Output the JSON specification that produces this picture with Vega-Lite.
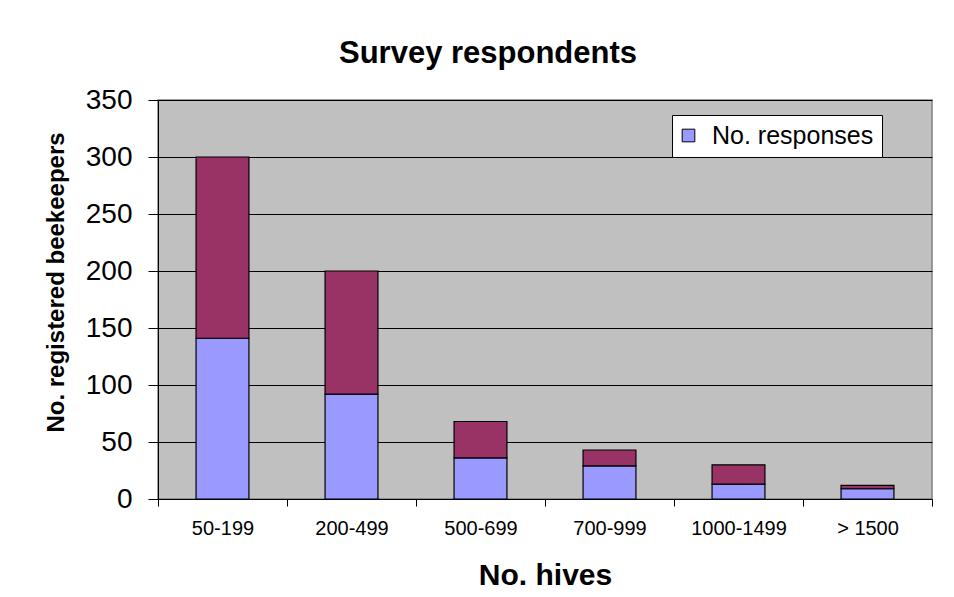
{
  "$schema": "https://vega.github.io/schema/vega-lite/v6.json",
  "autosize": "none",
  "width": 774,
  "height": 399,
  "padding": {"left": 158, "top": 100, "right": 22, "bottom": 98},
  "background": "#ffffff",
  "title": {
    "text": "Survey respondents",
    "font": "Liberation Sans",
    "fontSize": 31,
    "fontWeight": "bold",
    "color": "#000000",
    "anchor": "middle",
    "frame": "group",
    "dx": -57,
    "offset": 16
  },
  "data": {
    "values": [
      {"hives": "50-199", "series": "No. responses", "rank": 1, "count": 141},
      {"hives": "50-199", "series": "Non-respondents", "rank": 2, "count": 159},
      {"hives": "200-499", "series": "No. responses", "rank": 1, "count": 92},
      {"hives": "200-499", "series": "Non-respondents", "rank": 2, "count": 108},
      {"hives": "500-699", "series": "No. responses", "rank": 1, "count": 36},
      {"hives": "500-699", "series": "Non-respondents", "rank": 2, "count": 32},
      {"hives": "700-999", "series": "No. responses", "rank": 1, "count": 29},
      {"hives": "700-999", "series": "Non-respondents", "rank": 2, "count": 14},
      {"hives": "1000-1499", "series": "No. responses", "rank": 1, "count": 13},
      {"hives": "1000-1499", "series": "Non-respondents", "rank": 2, "count": 17},
      {"hives": "> 1500", "series": "No. responses", "rank": 1, "count": 9},
      {"hives": "> 1500", "series": "Non-respondents", "rank": 2, "count": 3}
    ]
  },
  "mark": {"type": "bar", "width": {"band": 0.41}, "stroke": "#000000", "strokeWidth": 1.2},
  "encoding": {
    "x": {
      "field": "hives",
      "type": "nominal",
      "sort": ["50-199", "200-499", "500-699", "700-999", "1000-1499", "> 1500"],
      "scale": {"paddingInner": 0, "paddingOuter": 0},
      "axis": {
        "title": "No. hives",
        "titleFont": "Liberation Sans",
        "titleFontSize": 30,
        "titleFontWeight": "bold",
        "titleColor": "#000000",
        "titlePadding": 22,
        "labelFont": "Liberation Sans",
        "labelFontSize": 20,
        "labelColor": "#000000",
        "labelAngle": 0,
        "labelPadding": 12,
        "tickBand": "extent",
        "tickSize": 7,
        "tickColor": "#000000",
        "domainColor": "#000000",
        "grid": false
      }
    },
    "y": {
      "field": "count",
      "type": "quantitative",
      "stack": "zero",
      "scale": {"domain": [0, 350], "nice": false},
      "axis": {
        "title": "No. registered beekeepers",
        "titleFont": "Liberation Sans",
        "titleFontSize": 24,
        "titleFontWeight": "bold",
        "titleColor": "#000000",
        "titleAngle": -90,
        "titleX": -95,
        "titleY": 182,
        "titleAlign": "center",
        "titleBaseline": "alphabetic",
        "values": [0, 50, 100, 150, 200, 250, 300, 350],
        "labelFont": "Liberation Sans",
        "labelFontSize": 28,
        "labelColor": "#000000",
        "labelPadding": 16,
        "tickSize": 10,
        "tickColor": "#000000",
        "domainColor": "#000000",
        "grid": true,
        "gridColor": "#000000",
        "gridWidth": 1
      }
    },
    "color": {
      "field": "series",
      "type": "nominal",
      "scale": {"domain": ["No. responses", "Non-respondents"], "range": ["#9999FF", "#993366"]},
      "legend": {
        "values": ["No. responses"],
        "title": null,
        "orient": "none",
        "legendX": 514,
        "legendY": 15,
        "fillColor": "#ffffff",
        "strokeColor": "#000000",
        "padding": 8,
        "labelFont": "Liberation Sans",
        "labelFontSize": 25,
        "labelColor": "#000000",
        "labelLimit": 400,
        "labelOffset": 11,
        "symbolOffset": -4,
        "symbolType": "square",
        "symbolSize": 160,
        "symbolStrokeColor": "#000000",
        "symbolStrokeWidth": 1,
        "symbolOpacity": 1
      }
    },
    "order": {"field": "rank", "type": "quantitative"}
  },
  "config": {
    "view": {"fill": "#C0C0C0", "stroke": "#808080", "strokeWidth": 1.5}
  }
}
